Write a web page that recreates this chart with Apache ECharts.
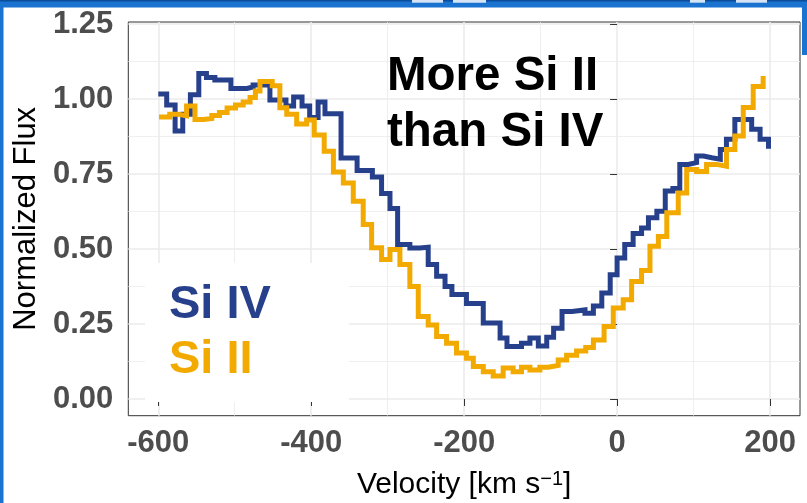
<!DOCTYPE html>
<html>
<head>
<meta charset="utf-8">
<script src="https://cdn.jsdelivr.net/npm/echarts@6/dist/echarts.min.js"></script>
<style>
  html, body { margin: 0; padding: 0; background: #ffffff; }
  #chart { width: 807px; height: 503px; }
</style>
</head>
<body>
<div id="chart"></div>
<script>
// Si IV profile: bin start velocity (km/s) and normalized flux
const siIVVelocity = [-600, -589, -578, -568, -558, -547, -537, -526, -505, -484, -476, -454,
  -433, -423, -412, -402, -391, -382, -361, -340, -320, -308, -297, -287, -271, -258, -247,
  -236, -225, -216, -197, -175, -153, -144, -125, -114, -103, -92, -83, -72, -59, -42, -31,
  -20, -9, 0, 10, 21, 32, 41, 52, 63, 73, 82, 93, 104, 113, 124, 135, 143, 154, 176, 187, 198];
const siIVFlux = [1.017, 0.980, 0.893, 0.949, 1.014, 1.085, 1.072, 1.063, 1.035, 1.040, 1.047, 0.997,
  0.977, 1.007, 0.977, 0.938, 0.990, 0.951, 0.803, 0.762, 0.740, 0.685, 0.635, 0.515, 0.503, 0.506, 0.448,
  0.409, 0.375, 0.348, 0.318, 0.253, 0.203, 0.175, 0.186, 0.203, 0.177, 0.206, 0.236, 0.292, 0.297, 0.286, 0.310,
  0.353, 0.414, 0.470, 0.515, 0.552, 0.570, 0.604, 0.626, 0.693, 0.702, 0.782, 0.788, 0.810, 0.804, 0.799, 0.832, 0.866, 0.932, 0.899, 0.866, 0.834];

// Si II profile: bin start velocity (km/s) and normalized flux
const siIIVelocity = [-599, -585, -574, -563, -552, -541, -530, -520, -510, -499, -489, -480, -473,
  -467, -451, -441, -432, -419, -406, -396, -383, -371, -358, -345, -332, -321, -308, -297, -284,
  -271, -260, -247, -236, -223, -210, -197, -188, -175, -162, -149, -136, -125, -114, -101, -90,
  -77, -66, -53, -41, -31, -17, -5, 8, 19, 32, 43, 54, 65, 80, 91, 104, 117, 130, 143, 154, 165, 178, 191];
const siIIFlux = [0.940, 0.949, 0.944, 0.977, 0.932, 0.935, 0.945, 0.955, 0.970, 0.980, 0.990, 1.005, 1.027,
  1.058, 1.044, 0.971, 0.949, 0.917, 0.930, 0.880, 0.826, 0.757, 0.720, 0.659, 0.582, 0.504, 0.465, 0.498, 0.448,
  0.375, 0.275, 0.247, 0.208, 0.186, 0.153, 0.136, 0.108, 0.091, 0.077, 0.103, 0.091, 0.106, 0.097, 0.106, 0.112,
  0.130, 0.146, 0.160, 0.172, 0.197, 0.242, 0.303, 0.331, 0.392, 0.428, 0.509, 0.542, 0.621, 0.687, 0.765, 0.758, 0.782, 0.776, 0.832, 0.877, 0.972, 1.042, 1.077];

const seriesNames = ['Si IV', 'Si II'];
const seriesColors = ['#27408B', '#F2A900'];
const annotationLines = ['More Si II', 'than Si IV'];

// Axis ticks: labelled majors and unlabelled minor grid lines
const xTickValues = [-600, -400, -200, 0, 200];
const xMinorValues = [-500, -300, -100, 100];
const yTickValues = [0, 0.25, 0.5, 0.75, 1.0, 1.25];
const yMinorValues = [0.125, 0.375, 0.625, 0.875, 1.125];

const xRange = [-639.2, 239.2];
const yRange = [-0.0557, 1.2567];

const FONT = 'Liberation Sans';
const pairs = (xs, ys) => xs.map((x, i) => [x, ys[i]]);

const chart = echarts.init(document.getElementById('chart'), null, { renderer: 'canvas' });

const majorGrid = { show: true, lineStyle: { color: '#EBEBEB', width: 1.6 } };
const minorGrid = { show: true, lineStyle: { color: '#EBEBEB', width: 0.8 } };
const tickStyle = { show: true, length: 7, lineStyle: { color: '#333333', width: 1 } };
const tickLabel = { fontFamily: FONT, fontWeight: 'bold', fontSize: 31, color: '#4D4D4D' };

chart.setOption({
  animation: false,
  backgroundColor: '#ffffff',
  textStyle: { fontFamily: FONT },
  grid: {
    left: 128.3, right: 7, top: 22, bottom: 87.3,
    outerBoundsMode: 'none', containLabel: false,
    show: true, borderColor: '#333333', borderWidth: 1, backgroundColor: 'transparent'
  },
  title: {
    text: annotationLines.join('\n'),
    left: 387, top: 49, padding: 0,
    textStyle: { fontFamily: FONT, fontWeight: 'bold', fontSize: 47.5, lineHeight: 56, color: '#000000' }
  },
  legend: {
    orient: 'vertical',
    left: 145, top: 263,
    padding: [15, 78, 14, 18],
    itemGap: 0, itemWidth: 0, itemHeight: 0,
    backgroundColor: '#ffffff',
    selectedMode: false,
    itemStyle: { opacity: 0 }, lineStyle: { opacity: 0 },
    textStyle: { fontFamily: FONT, fontWeight: 'bold', fontSize: 47, lineHeight: 55 },
    data: seriesNames.map((n, i) => ({ name: n, textStyle: { color: seriesColors[i] } }))
  },
  xAxis: [
    {
      type: 'value', min: xRange[0], max: xRange[1],
      axisLine: { show: false },
      axisTick: Object.assign({ customValues: xTickValues }, tickStyle),
      axisLabel: Object.assign({ customValues: xTickValues, margin: 12, formatter: v => String(v) }, tickLabel),
      splitLine: majorGrid,
      name: 'Velocity [km s{sup|\u22121}]',
      nameLocation: 'middle', nameGap: 54,
      nameTextStyle: {
        fontFamily: FONT, fontSize: 30, lineHeight: 30, color: '#000000',
        rich: { sup: { fontFamily: FONT, fontSize: 20, lineHeight: 20, verticalAlign: 'top', color: '#000000' } }
      }
    },
    {
      type: 'value', min: xRange[0], max: xRange[1], position: 'bottom',
      axisLine: { show: false },
      axisTick: { show: false, customValues: xMinorValues },
      axisLabel: { show: false, customValues: xMinorValues },
      splitLine: minorGrid
    }
  ],
  yAxis: [
    {
      type: 'value', min: yRange[0], max: yRange[1],
      axisLine: { show: false },
      axisTick: Object.assign({ customValues: yTickValues }, tickStyle),
      axisLabel: Object.assign({ customValues: yTickValues, margin: 15, formatter: v => v.toFixed(2) }, tickLabel),
      splitLine: majorGrid,
      name: 'Normalized Flux',
      nameLocation: 'middle', nameRotate: 90, nameGap: 83,
      nameTextStyle: { fontFamily: FONT, fontSize: 31, color: '#000000' }
    },
    {
      type: 'value', min: yRange[0], max: yRange[1], position: 'left',
      axisLine: { show: false },
      axisTick: { show: false, customValues: yMinorValues },
      axisLabel: { show: false, customValues: yMinorValues },
      splitLine: minorGrid
    }
  ],
  series: [
    {
      name: seriesNames[0], type: 'line', step: 'end', xAxisIndex: 0, yAxisIndex: 0,
      data: pairs(siIVVelocity, siIVFlux),
      symbol: 'none', z: 3,
      lineStyle: { color: seriesColors[0], width: 5, join: 'miter', cap: 'butt' },
      itemStyle: { color: seriesColors[0] }
    },
    {
      name: seriesNames[1], type: 'line', step: 'end', xAxisIndex: 0, yAxisIndex: 0,
      data: pairs(siIIVelocity, siIIFlux),
      symbol: 'none', z: 4,
      lineStyle: { color: seriesColors[1], width: 5, join: 'miter', cap: 'butt' },
      itemStyle: { color: seriesColors[1] }
    }
  ],
  graphic: [
    // page frame around the figure
    { type: 'rect', z: 100, shape: { x: 0, y: 0, width: 807, height: 7.5 }, style: { fill: '#1A73D0' } },
    { type: 'rect', z: 101, shape: { x: 0, y: 0, width: 807, height: 1.5 }, style: { fill: '#0B4F9C' } },
    { type: 'rect', z: 100, shape: { x: 0, y: 0, width: 3.5, height: 503 }, style: { fill: '#1A73D0' } },
    { type: 'rect', z: 100, shape: { x: 802, y: 0, width: 5, height: 55 }, style: { fill: '#1A73D0' } },
    { type: 'rect', z: 102, shape: { x: 412, y: 0, width: 31, height: 2.7 }, style: { fill: '#D6E4F5' } },
    { type: 'rect', z: 102, shape: { x: 453, y: 0, width: 33, height: 2.7 }, style: { fill: '#D6E4F5' } },
    { type: 'rect', z: 102, shape: { x: 690, y: 0, width: 15, height: 2.7 }, style: { fill: '#D6E4F5' } },
    { type: 'rect', z: 102, shape: { x: 736, y: 0, width: 31, height: 2.7 }, style: { fill: '#D6E4F5' } }
  ]
});
</script>
</body>
</html>
